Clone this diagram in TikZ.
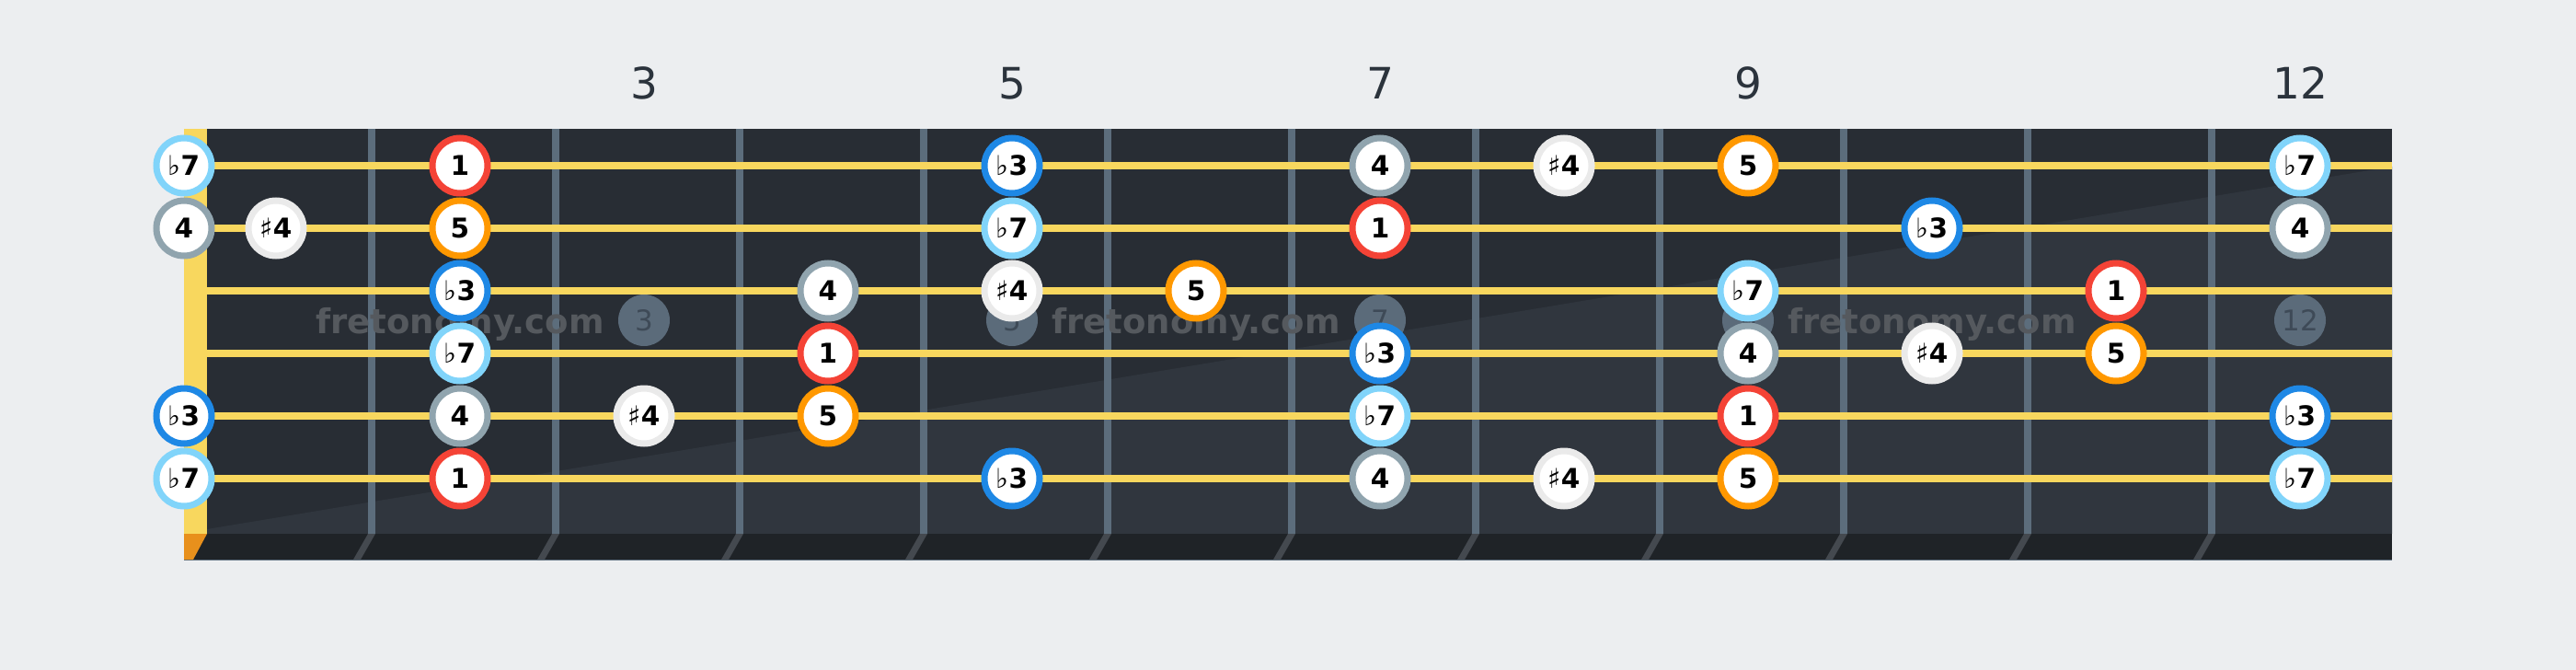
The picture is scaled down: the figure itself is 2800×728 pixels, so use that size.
\documentclass[tikz,border=0pt]{standalone}
\usepackage{fontspec}
\setmainfont{DejaVu Sans}
\usetikzlibrary{calc}

\definecolor{cBack}{HTML}{ECEEF0}
\definecolor{cBoard}{HTML}{282D34}
\definecolor{cBoardLight}{HTML}{30363E}
\definecolor{cStrip}{HTML}{1F2327}
\definecolor{cFret}{HTML}{5C6D7C}
\definecolor{cSlant}{HTML}{44494F}
\definecolor{cString}{HTML}{F8D75E}
\definecolor{cNutEnd}{HTML}{E8901C}
\definecolor{cRoot}{HTML}{F44336}
\definecolor{cFifth}{HTML}{FF9800}
\definecolor{cThree}{HTML}{1E88E5}
\definecolor{cSeven}{HTML}{81D4FA}
\definecolor{cFour}{HTML}{90A4AE}
\definecolor{cSharp}{HTML}{EAEAEA}
\definecolor{cMarker}{HTML}{5B6B7A}
\definecolor{cMarkText}{HTML}{3E4A57}
\definecolor{cLabel}{HTML}{2B333C}
\definecolor{cWater}{HTML}{55595E}

\newcommand{\flatsym}{{\mdseries ♭}}
\newcommand{\sharpsym}{{\mdseries ♯}}

\tikzset{
  note/.style={circle, fill=white, draw, line width=7pt, minimum size=60pt, inner sep=0pt,
    font=\fontsize{29.5}{29.5}\selectfont\bfseries, text height=21.5pt, text depth=0pt},
  root/.style={note, draw=cRoot},
  fifth/.style={note, draw=cFifth},
  flatthree/.style={note, draw=cThree},
  flatseven/.style={note, draw=cSeven},
  four/.style={note, draw=cFour},
  sharpfour/.style={note, draw=cSharp},
  marker/.style={circle, fill=cMarker, minimum size=56pt, inner sep=0pt, text=cMarkText,
    font=\fontsize{31}{31}\selectfont, text height=22.6pt, text depth=0pt},
  watermark/.style={anchor=base, text=cWater, font=\fontsize{37}{37}\selectfont\bfseries},
  fretnum/.style={text=cLabel, font=\fontsize{47}{47}\selectfont, text height=34.3pt, text depth=0pt}
}

\begin{document}
\begin{tikzpicture}[x=1pt, y=-1pt]
  \fill[cBack] (0,0) rectangle (2800,728);
  \useasboundingbox (0,0) rectangle (2800,728);

  % board, 200 = one fret
  \fill[cBoard] (225,140) rectangle (2600,580);
  \fill[cBoardLight] (225,575) -- (2600,181) -- (2600,580) -- (225,580) -- cycle;
  \fill[cStrip] (200,580) rectangle (2600,608);
  \draw[cFret, line width=1pt] (200,608) -- (2600,608);

  \foreach \k in {1,...,11}
  {
    \fill[cFret] (200*\k+200,140) rectangle (200*\k+208,580);
    \fill[cSlant] (200*\k+200,580) -- (200*\k+208,580) -- (200*\k+192,608) -- (200*\k+184,608) -- cycle;
  }

  % nut
  \fill[cString] (200,140) rectangle (225,580);
  \fill[cNutEnd] (200,580) -- (225,580) -- (210,608) -- (200,608) -- cycle;

  % inlays
  \node[marker] (m3) at (700,348) {3};
  \node[marker] (m5) at (1100,348) {5};
  \node[marker] (m7) at (1500,348) {7};
  \node[marker] (m9) at (1900,348) {9};
  \node[marker] (m12) at (2500,348) {12};

  \node[watermark] (w1) at (500,362) {fretonomy.com};
  \node[watermark] (w2) at (1300,362) {fretonomy.com};
  \node[watermark] (w3) at (2100,362) {fretonomy.com};

  % strings, 68 apart
  \foreach \y in {180,248,316,384,452,520}
    \draw[cString, line width=8pt] (225,\y) -- (2600,\y);

  % fret numbers
  \node[fretnum] (l3) at (700,90) {3};
  \node[fretnum] (l5) at (1100,90) {5};
  \node[fretnum] (l7) at (1500,90) {7};
  \node[fretnum] (l9) at (1900,90) {9};
  \node[fretnum] (l12) at (2500,90) {12};

  % string 1
  \node[flatseven] (a0) at (200,180) {\flatsym7};
  \node[root] (a2) at (500,180) {1};
  \node[flatthree] (a5) at (1100,180) {\flatsym3};
  \node[four] (a7) at (1500,180) {4};
  \node[sharpfour] (a8) at (1700,180) {\sharpsym4};
  \node[fifth] (a9) at (1900,180) {5};
  \node[flatseven] (a12) at (2500,180) {\flatsym7};

  % string 2
  \node[four] (b0) at (200,248) {4};
  \node[sharpfour] (b1) at (300,248) {\sharpsym4};
  \node[fifth] (b2) at (500,248) {5};
  \node[flatseven] (b5) at (1100,248) {\flatsym7};
  \node[root] (b7) at (1500,248) {1};
  \node[flatthree] (b10) at (2100,248) {\flatsym3};
  \node[four] (b12) at (2500,248) {4};

  % string 3
  \node[flatthree] (c2) at (500,316) {\flatsym3};
  \node[four] (c4) at (900,316) {4};
  \node[sharpfour] (c5) at (1100,316) {\sharpsym4};
  \node[fifth] (c6) at (1300,316) {5};
  \node[flatseven] (c9) at (1900,316) {\flatsym7};
  \node[root] (c11) at (2300,316) {1};

  % string 4
  \node[flatseven] (d2) at (500,384) {\flatsym7};
  \node[root] (d4) at (900,384) {1};
  \node[flatthree] (d7) at (1500,384) {\flatsym3};
  \node[four] (d9) at (1900,384) {4};
  \node[sharpfour] (d10) at (2100,384) {\sharpsym4};
  \node[fifth] (d11) at (2300,384) {5};

  % string 5
  \node[flatthree] (e0) at (200,452) {\flatsym3};
  \node[four] (e2) at (500,452) {4};
  \node[sharpfour] (e3) at (700,452) {\sharpsym4};
  \node[fifth] (e4) at (900,452) {5};
  \node[flatseven] (e7) at (1500,452) {\flatsym7};
  \node[root] (e9) at (1900,452) {1};
  \node[flatthree] (e12) at (2500,452) {\flatsym3};

  % string 6
  \node[flatseven] (f0) at (200,520) {\flatsym7};
  \node[root] (f2) at (500,520) {1};
  \node[flatthree] (f5) at (1100,520) {\flatsym3};
  \node[four] (f7) at (1500,520) {4};
  \node[sharpfour] (f8) at (1700,520) {\sharpsym4};
  \node[fifth] (f9) at (1900,520) {5};
  \node[flatseven] (f12) at (2500,520) {\flatsym7};
\end{tikzpicture}
\end{document}
